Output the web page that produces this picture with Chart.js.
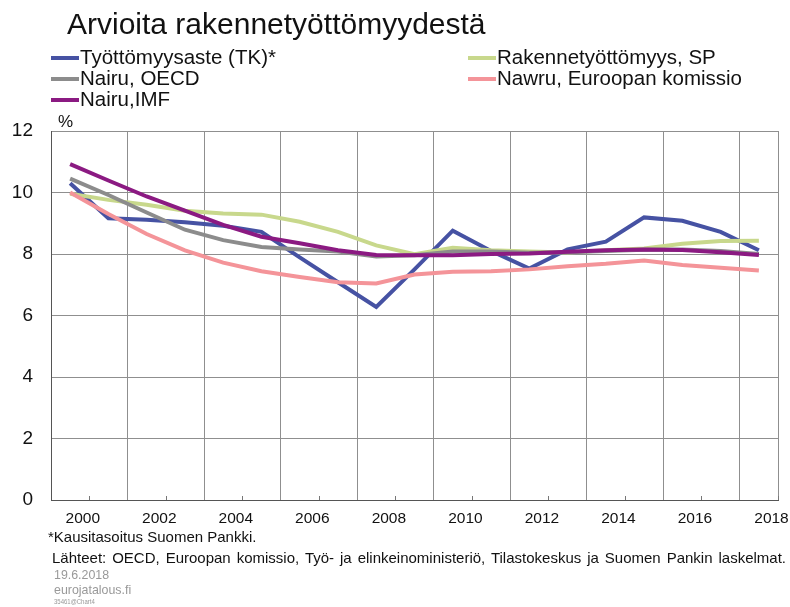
<!DOCTYPE html>
<html>
<head>
<meta charset="utf-8">
<script src="https://cdn.jsdelivr.net/npm/chart.js@4/dist/chart.umd.min.js"></script>
<style>
  body { margin: 0; background: #fff; font-family: "Liberation Sans", Arial, sans-serif; color: #111; }
  #wrap { position: relative; width: 790px; height: 607px; overflow: hidden; }
  #chart { position: absolute; left: 0; top: 0; }
  .txt { position: absolute; white-space: nowrap; line-height: 1; }
  .leg { position: absolute; white-space: nowrap; font-size: 20.5px; line-height: 20px; }
  .leg span.ln { display: inline-block; width: 28px; height: 4px; vertical-align: middle; margin-right: 1px; position: relative; top: -1px; }
</style>
</head>
<body>
<div id="wrap">
  <canvas id="chart" width="790" height="607"></canvas>
  <div class="txt" style="left:67px; top:9px; font-size:30px;">Arvioita rakennetyöttömyydestä</div>
  <div id="legend"></div>
  <div class="txt" style="left:58px; top:113px; font-size:17px;">%</div>
  <div class="txt" style="left:48px; top:529px; font-size:15px;">*Kausitasoitus Suomen Pankki.</div>
  <div class="txt" style="left:52px; top:550px; font-size:15px; word-spacing:1.8px;">Lähteet: OECD, Euroopan komissio, Työ- ja elinkeinoministeriö,  Tilastokeskus ja Suomen Pankin laskelmat.</div>
  <div class="txt" style="left:54px; top:569px; font-size:12.4px; color:#999;">19.6.2018</div>
  <div class="txt" style="left:54px; top:584px; font-size:12.4px; color:#999;">eurojatalous.fi</div>
  <div class="txt" style="left:54px; top:598px; font-size:8px; color:#999; transform:scaleX(0.75); transform-origin:left;">35461@Chart4</div>
</div>
<script>
// vuodet (vuosikeskiarvot, piirretään vuoden puoliväliin)
const years = [1999, 2000, 2001, 2002, 2003, 2004, 2005, 2006, 2007, 2008, 2009, 2010, 2011, 2012, 2013, 2014, 2015, 2016, 2017];

const tyottomyysaste = [10.3, 9.16, 9.11, 9.03, 8.92, 8.72, 7.89, 7.08, 6.28, 7.5, 8.76, 8.1, 7.53, 8.15, 8.4, 9.19, 9.08, 8.72, 8.12];
const rakenneSP = [9.96, 9.76, 9.6, 9.41, 9.32, 9.28, 9.05, 8.72, 8.28, 7.99, 8.2, 8.12, 8.08, 8.05, 8.12, 8.18, 8.33, 8.42, 8.43];
const nairuOECD = [10.45, 9.92, 9.35, 8.79, 8.45, 8.23, 8.15, 8.08, 7.92, 7.96, 8.08, 8.08, 8.04, 8.06, 8.1, 8.14, 8.15, 8.1, 8.0];
const nawruEK = [10.0, 9.3, 8.65, 8.12, 7.72, 7.44, 7.25, 7.08, 7.04, 7.33, 7.42, 7.44, 7.5, 7.6, 7.68, 7.79, 7.64, 7.55, 7.46];
const nairuIMF = [10.92, 10.39, 9.87, 9.41, 8.95, 8.56, 8.35, 8.12, 7.97, 7.96, 7.96, 8.0, 8.02, 8.07, 8.12, 8.15, 8.13, 8.06, 7.97];

const yTicks = [0, 2, 4, 6, 8, 10, 12];
const xLabels = [2000, 2002, 2004, 2006, 2008, 2010, 2012, 2014, 2016, 2018];

const toPoints = (vals) => years.map((y, i) => ({ x: y + 0.5, y: vals[i] }));

const series = [
  { label: 'Työttömyysaste (TK)*', data: tyottomyysaste, color: '#4652a3', order: 4, col: 0, row: 0 },
  { label: 'Rakennetyöttömyys, SP', data: rakenneSP, color: '#c8d88c', order: 3, col: 1, row: 0 },
  { label: 'Nairu, OECD', data: nairuOECD, color: '#8c8c8c', order: 2, col: 0, row: 1 },
  { label: 'Nawru, Euroopan komissio', data: nawruEK, color: '#f49499', order: 1, col: 1, row: 1 },
  { label: 'Nairu,IMF', data: nairuIMF, color: '#8b1a82', order: 0, col: 0, row: 2 },
];

// legenda kahteen sarakkeeseen
const legendEl = document.getElementById('legend');
series.forEach(s => {
  const d = document.createElement('div');
  d.className = 'leg';
  d.style.left = (s.col === 0 ? 51 : 468) + 'px';
  d.style.top = (47 + s.row * 21) + 'px';
  d.innerHTML = '<span class="ln" style="background:' + s.color + '"></span>' + s.label;
  legendEl.appendChild(d);
});

// pienet jakoviivat parillisille vuosille kuva-alueen sisään
const innerTicks = {
  id: 'innerTicks',
  afterDatasetsDraw(chart) {
    const { ctx, chartArea, scales } = chart;
    ctx.save();
    ctx.strokeStyle = '#777';
    ctx.lineWidth = 1;
    xLabels.forEach(v => {
      const px = Math.round(scales.x.getPixelForValue(v)) + 0.5;
      ctx.beginPath();
      ctx.moveTo(px, chartArea.bottom);
      ctx.lineTo(px, chartArea.bottom - 4);
      ctx.stroke();
    });
    ctx.restore();
  }
};

new Chart(document.getElementById('chart'), {
  type: 'line',
  data: {
    datasets: series.map(s => ({
      label: s.label,
      data: toPoints(s.data),
      borderColor: s.color,
      backgroundColor: s.color,
      borderWidth: 4,
      pointRadius: 0,
      tension: 0,
      order: s.order,
    })),
  },
  options: {
    responsive: false,
    animation: false,
    layout: { padding: { left: 0, top: 131, right: 12, bottom: 77 } },
    plugins: { legend: { display: false }, tooltip: { enabled: false } },
    scales: {
      x: {
        type: 'linear',
        min: 1999,
        max: 2018,
        afterBuildTicks: (scale) => {
          scale.ticks = years.concat([2018]).map(v => ({ value: v }));
        },
        afterFit: (scale) => {
          scale.height = 30;
          scale.paddingLeft = 0;
          scale.paddingRight = 0;
        },
        grid: {
          color: (ctx) => (ctx.tick && (ctx.tick.value % 2 === 1 || ctx.tick.value === 2018)) ? '#8f8f8f' : 'rgba(0,0,0,0)',
          drawTicks: false,
        },
        border: { display: true, color: '#555', width: 1 },
        ticks: {
          autoSkip: false,
          maxRotation: 0,
          padding: 9,
          labelOffset: -6.5,
          color: '#111',
          font: { family: 'Liberation Sans', size: 15.5 },
          callback: (v) => xLabels.includes(v) ? String(v) : '',
        },
      },
      y: {
        min: 0,
        max: 12,
        afterBuildTicks: (scale) => {
          scale.ticks = yTicks.map(v => ({ value: v }));
        },
        afterFit: (scale) => { scale.width = 51; },
        grid: { color: '#8f8f8f', drawTicks: false },
        border: { display: true, color: '#555', width: 1 },
        ticks: {
          padding: 18,
          color: '#111',
          font: { family: 'Liberation Sans', size: 19 },
        },
      },
    },
  },
  plugins: [innerTicks],
});
</script>
</body>
</html>
